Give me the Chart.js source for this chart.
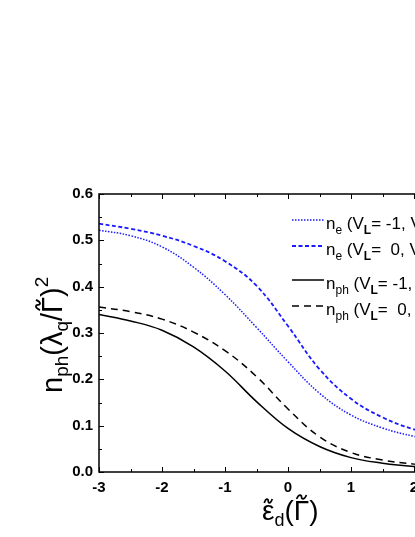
<!DOCTYPE html>
<html>
<head>
<meta charset="utf-8">
<script src="https://cdn.jsdelivr.net/npm/chart.js@4"></script>
<style>
  html, body { margin: 0; padding: 0; background: #fff; overflow: hidden; }
  #wrap { width: 500px; height: 537px; position: relative; }
</style>
</head>
<body>
<div id="wrap"><canvas id="chart"></canvas></div>
<script>
// values
const xVals = [-3, -2.5, -2, -1.5, -1, -0.5, 0, 0.5, 1, 1.5, 2, 2.5, 3];
const neVm1 = [0.522, 0.510, 0.486, 0.442, 0.383, 0.312, 0.238, 0.170, 0.123, 0.095, 0.077, 0.065, 0.056];
const neV0 = [0.536, 0.525, 0.510, 0.488, 0.455, 0.402, 0.315, 0.222, 0.158, 0.118, 0.092, 0.075, 0.063];
const nphVm1 = [0.340, 0.326, 0.306, 0.270, 0.218, 0.152, 0.094, 0.055, 0.031, 0.019, 0.012, 0.009, 0.007];
const nphV0 = [0.356, 0.346, 0.330, 0.302, 0.262, 0.206, 0.136, 0.076, 0.042, 0.026, 0.017, 0.012, 0.009];
const xTicks = [-3, -2, -1, 0, 1, 2, 3];
const yTicks = [0, 0.1, 0.2, 0.3, 0.4, 0.5, 0.6];

const FONT = '"Liberation Sans", Arial, sans-serif';
const BLUE = '#1a1aff';

const pts = ys => xVals.map((x, i) => ({ x, y: ys[i] }));

const lbl = (sub, vl) => [['n',17],[sub,12,5],[' (V',17],['L',12,5,true],['= ' + vl + ', V',17],['R',12,5,true],['= 1)',17]];
const series = [
  { data: neVm1, color: BLUE, dash: [1.5, 1.5], width: 1.5, label: lbl('e', '-1') },
  { data: neV0, color: BLUE, dash: [4, 2.5], width: 1.8, label: lbl('e', ' 0') },
  { data: nphVm1, color: '#000', dash: [], width: 1.5, label: lbl('ph', '-1') },
  { data: nphV0, color: '#000', dash: [7, 5], width: 1.5, label: lbl('ph', ' 0') }
];
const legendY = [220, 246, 280, 306];

// parts: [text, size, dy, bold, tildeRise]
function drawRich(ctx, parts, x, y) {
  parts.forEach(p => {
    const [t, size, dy = 0, bold = false, tilde = 0] = p;
    ctx.font = (bold ? 'bold ' : '') + size + 'px ' + FONT;
    ctx.fillText(t, x, y + dy);
    const w = ctx.measureText(t).width;
    if (tilde) {
      const cx = x + w / 2, ty = y + dy - tilde, hw = w * 0.32, h = size * 0.07;
      ctx.save();
      ctx.lineWidth = size * 0.06;
      ctx.strokeStyle = '#000';
      ctx.setLineDash([]);
      ctx.beginPath();
      ctx.moveTo(cx - hw, ty + h);
      ctx.bezierCurveTo(cx - hw * 0.5, ty - h * 2, cx, ty - h, cx, ty);
      ctx.bezierCurveTo(cx, ty + h, cx + hw * 0.5, ty + h * 2, cx + hw, ty - h);
      ctx.stroke();
      ctx.restore();
    }
    x += w;
  });
}

const decor = {
  id: 'decor',
  afterDraw(chart) {
    const { ctx, chartArea: a, scales: { x, y } } = chart;
    ctx.save();
    ctx.strokeStyle = '#000';
    ctx.lineWidth = 1.5;
    ctx.setLineDash([]);
    ctx.strokeRect(a.left, a.top, a.right - a.left, a.bottom - a.top);
    ctx.lineWidth = 1;
    ctx.beginPath();
    for (let v = -3; v <= 3.001; v += 0.5) {
      const px = Math.round(x.getPixelForValue(v)) + 0.5;
      const len = Number.isInteger(v) ? 5 : 3;
      ctx.moveTo(px, a.bottom); ctx.lineTo(px, a.bottom - len);
      ctx.moveTo(px, a.top); ctx.lineTo(px, a.top + len);
    }
    for (let v = 0; v <= 0.6001; v += 0.05) {
      const py = Math.round(y.getPixelForValue(v)) + 0.5;
      const len = Math.abs(v * 10 - Math.round(v * 10)) < 1e-6 ? 5 : 3;
      ctx.moveTo(a.left, py); ctx.lineTo(a.left + len, py);
      ctx.moveTo(a.right, py); ctx.lineTo(a.right - len, py);
    }
    ctx.stroke();

    // legend
    ctx.fillStyle = '#000';
    ctx.textBaseline = 'alphabetic';
    series.forEach((s, i) => {
      const ly = legendY[i];
      ctx.strokeStyle = s.color;
      ctx.lineWidth = s.width;
      ctx.setLineDash(s.dash);
      ctx.beginPath(); ctx.moveTo(292, ly); ctx.lineTo(324, ly); ctx.stroke();
      ctx.setLineDash([]);
      drawRich(ctx, s.label, 326, ly + 9);
    });

    // axis titles
    drawRich(ctx, [['ε',28,0,false,19],['d',18,6],['(',28],['Γ',28,0,false,23],[')',28]], 262, 520);
    ctx.translate(62, 393);
    ctx.rotate(-Math.PI / 2);
    drawRich(ctx, [['n',29],['ph',19,6],['(λ',29],['q',19,6],['/',29],['Γ',29,0,false,24],[')',29],['2',19,-14]], 0, 0);
    ctx.restore();
  }
};

new Chart(document.getElementById('chart'), {
  type: 'line',
  data: {
    datasets: series.map(s => ({
      data: pts(s.data),
      borderColor: s.color,
      borderDash: s.dash,
      borderWidth: s.width,
      pointRadius: 0,
      fill: false,
      tension: 0.4
    }))
  },
  options: {
    responsive: true,
    maintainAspectRatio: false,
    animation: false,
    layout: { padding: { top: 194, right: 23, left: 0, bottom: 0 } },
    plugins: { legend: { display: false }, tooltip: { enabled: false } },
    scales: {
      x: {
        type: 'linear', min: -3, max: 3,
        afterFit: s => { s.height = 65; },
        afterBuildTicks: s => { s.ticks = xTicks.map(v => ({ value: v })); },
        grid: { display: false, drawTicks: false },
        border: { display: false },
        ticks: { color: '#000', padding: 7, font: { family: FONT, size: 15, weight: 'bold' }, callback: v => String(v), maxRotation: 0 }
      },
      y: {
        type: 'linear', min: 0, max: 0.6,
        afterFit: s => { s.width = 99; },
        afterBuildTicks: s => { s.ticks = yTicks.map(v => ({ value: v })); },
        grid: { display: false, drawTicks: false },
        border: { display: false },
        ticks: { color: '#000', padding: 6, font: { family: FONT, size: 15, weight: 'bold' }, callback: v => v.toFixed(1) }
      }
    }
  },
  plugins: [decor]
});
</script>
</body>
</html>
